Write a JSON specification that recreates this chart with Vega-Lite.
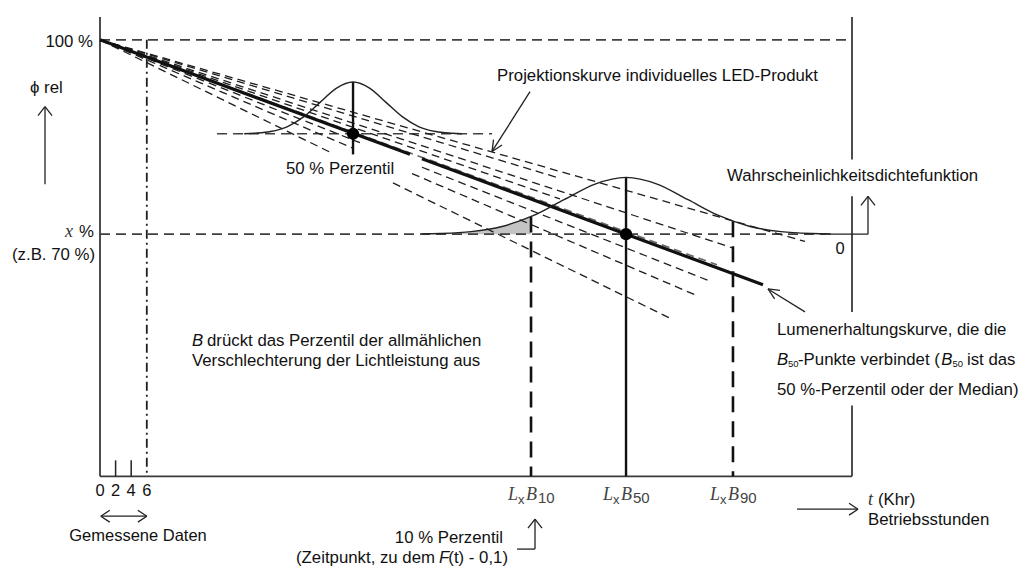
{
"$schema":"https://vega.github.io/schema/vega-lite/v6.json",
"width":1019,"height":567,"padding":0,
"autosize":{"type":"fit","contains":"padding"},
"background":"white",
"config":{"view":{"stroke":null}},
"datasets":{
"segs":[
{"k":"axis","x":0,"y":103.54,"x2":0,"y2":32.62},
{"k":"axis","x":0,"y":32.62,"x2":96.41,"y2":32.62},
{"k":"axis","x":96.41,"y":103.54,"x2":96.41,"y2":81.54},
{"k":"axis","x":96.41,"y":75.85,"x2":96.41,"y2":58.0},
{"k":"axis","x":96.41,"y":43.54,"x2":96.41,"y2":32.62},
{"k":"tick","x":2,"y":32.62,"x2":2,"y2":35.08},
{"k":"tick","x":4,"y":32.62,"x2":4,"y2":35.08},
{"k":"ref","x":0,"y":100,"x2":96.41,"y2":100},
{"k":"ref","x":0,"y":70,"x2":93.21,"y2":70},
{"k":"ref","x":15.0,"y":85.5,"x2":50.26,"y2":85.5},
{"k":"dashdot","x":6,"y":100,"x2":6,"y2":32.62},
{"k":"fan","x":0,"y":100,"x2":90.38,"y2":68.87},
{"k":"fan","x":0,"y":100,"x2":58.97,"y2":78.63},
{"k":"fan","x":0,"y":100,"x2":81.15,"y2":67.86},
{"k":"fan","x":0,"y":100,"x2":58.97,"y2":75.44},
{"k":"fangray","x":0,"y":100,"x2":79.10,"y2":65.26},
{"k":"fan","x":0,"y":100,"x2":33.33,"y2":84.12},
{"k":"fan","x":41.28,"y":80.33,"x2":78.21,"y2":62.74},
{"k":"fan","x":0,"y":100,"x2":32.31,"y2":83.33},
{"k":"fan","x":40.0,"y":79.36,"x2":76.54,"y2":60.51},
{"k":"fan","x":0,"y":100,"x2":29.87,"y2":82.44},
{"k":"fan","x":37.56,"y":77.91,"x2":73.33,"y2":56.88},
{"k":"main","x":0,"y":100,"x2":39.74,"y2":82.32},
{"k":"main","x":41.28,"y":81.64,"x2":85.0,"y2":62.19},
{"k":"pctdash","x":55.26,"y":72.71,"x2":55.26,"y2":32.62},
{"k":"pctdash","x":81.15,"y":71.98,"x2":81.15,"y2":32.62},
{"k":"pctsolid","x":67.44,"y":78.77,"x2":67.44,"y2":32.62},
{"k":"pctsolid","x":32.44,"y":93.5,"x2":32.44,"y2":82.31},
{"k":"thin","x":93.21,"y":70,"x2":98.46,"y2":70},
{"k":"thin","x":98.46,"y":70,"x2":98.46,"y2":75.85},
{"k":"thin","x":97.56,"y":74.46,"x2":98.46,"y2":75.85},
{"k":"thin","x":99.36,"y":74.46,"x2":98.46,"y2":75.85},
{"k":"thin","x":55.13,"y":92.0,"x2":50.26,"y2":82.77},
{"k":"thin","x":51.55,"y":83.77,"x2":50.26,"y2":82.77},
{"k":"thin","x":50.45,"y":84.6,"x2":50.26,"y2":82.77},
{"k":"thin","x":90.38,"y":58.0,"x2":85.64,"y2":61.54},
{"k":"thin","x":86.49,"y":60.0,"x2":85.64,"y2":61.54},
{"k":"thin","x":87.17,"y":61.32,"x2":85.64,"y2":61.54},
{"k":"thin","x":-7.05,"y":77.69,"x2":-7.05,"y2":89.69},
{"k":"thin","x":-7.95,"y":88.31,"x2":-7.05,"y2":89.69},
{"k":"thin","x":-6.15,"y":88.31,"x2":-7.05,"y2":89.69},
{"k":"thin","x":0.1,"y":26.46,"x2":6.0,"y2":26.46},
{"k":"thin","x":1.25,"y":27.38,"x2":0.1,"y2":26.46},
{"k":"thin","x":1.25,"y":25.54,"x2":0.1,"y2":26.46},
{"k":"thin","x":4.85,"y":27.38,"x2":6.0,"y2":26.46},
{"k":"thin","x":4.85,"y":25.54,"x2":6.0,"y2":26.46},
{"k":"thin","x":89.36,"y":27.54,"x2":97.18,"y2":27.54},
{"k":"thin","x":96.03,"y":28.46,"x2":97.18,"y2":27.54},
{"k":"thin","x":96.03,"y":26.62,"x2":97.18,"y2":27.54},
{"k":"thin","x":53.46,"y":21.38,"x2":55.77,"y2":21.38},
{"k":"thin","x":55.77,"y":21.38,"x2":55.77,"y2":26.0},
{"k":"thin","x":54.87,"y":24.62,"x2":55.77,"y2":26.0},
{"k":"thin","x":56.67,"y":24.62,"x2":55.77,"y2":26.0}
],
"curves":[
{"c":"d1","x":18.48,"y":85.5},{"c":"d1","x":19.75,"y":85.59},{"c":"d1","x":21.87,"y":85.85},{"c":"d1","x":23.98,"y":86.58},{"c":"d1","x":26.10,"y":88.10},{"c":"d1","x":28.21,"y":90.35},{"c":"d1","x":30.33,"y":92.56},{"c":"d1","x":32.44,"y":93.5},{"c":"d1","x":34.56,"y":92.56},{"c":"d1","x":36.67,"y":90.35},{"c":"d1","x":38.79,"y":88.10},{"c":"d1","x":40.90,"y":86.58},{"c":"d1","x":43.02,"y":85.85},{"c":"d1","x":45.13,"y":85.59},{"c":"d1","x":46.40,"y":85.5},
{"c":"d2","x":41.21,"y":70.04},{"c":"d2","x":43.59,"y":70.10},{"c":"d2","x":47.57,"y":70.39},{"c":"d2","x":51.54,"y":71.19},{"c":"d2","x":55.52,"y":72.85},{"c":"d2","x":59.49,"y":75.32},{"c":"d2","x":63.47,"y":77.74},{"c":"d2","x":67.44,"y":78.77},{"c":"d2","x":71.42,"y":77.74},{"c":"d2","x":75.39,"y":75.32},{"c":"d2","x":79.37,"y":72.85},{"c":"d2","x":83.34,"y":71.19},{"c":"d2","x":87.32,"y":70.39},{"c":"d2","x":91.29,"y":70.10},{"c":"d2","x":93.68,"y":70.04}
],
"shade":[
{"x":43.21,"y":70.08},{"x":43.59,"y":70.10},{"x":47.57,"y":70.39},{"x":51.54,"y":71.19},{"x":53.53,"y":71.90},{"x":55.26,"y":72.71}
],
"dots":[{"x":32.44,"y":85.5},{"x":67.44,"y":70}],
"labels":[
{"s":"sl","text":"ϕ rel","x":-8.97,"y":92.62},
{"s":"sl","text":"50 % Perzentil","x":23.85,"y":80.0},
{"s":"sl","text":"Projektionskurve individuelles LED-Produkt","x":50.9,"y":94.46},
{"s":"sl","text":"Wahrscheinlichkeitsdichtefunktion","x":80.38,"y":78.92},
{"s":"sl","text":"drückt das Perzentil der allmählichen","x":13.72,"y":53.54},
{"s":"sl","text":"Verschlechterung der Lichtleistung aus","x":11.79,"y":50.46},
{"s":"sl","text":"Lumenerhaltungskurve, die die","x":86.79,"y":55.23},
{"s":"sl","text":"-Punkte verbindet (","x":89.49,"y":50.62},
{"s":"sl","text":"ist das","x":111.15,"y":50.62},
{"s":"sl","text":"50 %-Perzentil oder der Median)","x":86.79,"y":46.0},
{"s":"sl","text":"(Khr)","x":99.74,"y":28.92},
{"s":"sl","text":"Betriebsstunden","x":98.46,"y":25.85},
{"s":"sr","text":"100 %","x":-0.90,"y":99.69},
{"s":"sr","text":"(z.B. 70 %)","x":-0.64,"y":66.77},
{"s":"sr","text":"%","x":-0.77,"y":70.31},
{"s":"sr","text":"10 % Perzentil","x":51.67,"y":23.08},
{"s":"sr","text":"(Zeitpunkt, zu dem","x":42.95,"y":20.0},
{"s":"sr","text":"(t) - 0,1)","x":52.31,"y":20.0},
{"s":"sc","text":"0","x":0,"y":30.31},
{"s":"sc","text":"2","x":2,"y":30.31},
{"s":"sc","text":"4","x":4,"y":30.31},
{"s":"sc","text":"6","x":6,"y":30.31},
{"s":"sc","text":"Gemessene Daten","x":4.87,"y":23.38},
{"s":"sc","text":"0","x":94.87,"y":67.69},
{"s":"si","text":"B","x":11.79,"y":53.54},
{"s":"si","text":"B","x":86.79,"y":50.62},
{"s":"si","text":"B","x":107.85,"y":50.62},
{"s":"si","text":"F","x":43.46,"y":20.0},
{"s":"sub","text":"50","x":88.21,"y":50.62},
{"s":"sub","text":"50","x":109.3,"y":50.62},
{"s":"ser","text":"x","x":-4.49,"y":70.31},
{"s":"ser","text":"t","x":98.46,"y":28.92}
],
"lxb":[{"x":55.26,"y":29.69,"n":"10"},{"x":67.44,"y":29.69,"n":"50"},{"x":81.15,"y":29.69,"n":"90"}]
},
"encoding":{
"x":{"field":"x","type":"quantitative","scale":{"domain":[-12.8205,117.8205],"nice":false,"zero":false},"axis":null},
"y":{"field":"y","type":"quantitative","scale":{"domain":[18.923,106.154],"nice":false,"zero":false},"axis":null}
},
"layer":[
{"data":{"name":"shade"},"mark":{"type":"area","color":"#c4c4c4","interpolate":"monotone"},"encoding":{"y2":{"datum":70}}},
{"data":{"name":"segs"},"transform":[{"filter":"datum.k==='ref'"}],"mark":{"type":"rule","color":"#404040","strokeWidth":1.6,"strokeDash":[10,6]},"encoding":{"x2":{"field":"x2"},"y2":{"field":"y2"}}},
{"data":{"name":"segs"},"transform":[{"filter":"datum.k==='fan'"}],"mark":{"type":"rule","color":"#1e1e1e","strokeWidth":1.3,"strokeDash":[8,5]},"encoding":{"x2":{"field":"x2"},"y2":{"field":"y2"}}},
{"data":{"name":"segs"},"transform":[{"filter":"datum.k==='fangray'"}],"mark":{"type":"rule","color":"#666666","strokeWidth":1.6,"strokeDash":[8,5]},"encoding":{"x2":{"field":"x2"},"y2":{"field":"y2"}}},
{"data":{"name":"segs"},"transform":[{"filter":"datum.k==='axis'"}],"mark":{"type":"rule","color":"#3a3a3a","strokeWidth":1.8},"encoding":{"x2":{"field":"x2"},"y2":{"field":"y2"}}},
{"data":{"name":"segs"},"transform":[{"filter":"datum.k==='tick'"}],"mark":{"type":"rule","color":"#222222","strokeWidth":1.5},"encoding":{"x2":{"field":"x2"},"y2":{"field":"y2"}}},
{"data":{"name":"segs"},"transform":[{"filter":"datum.k==='dashdot'"}],"mark":{"type":"rule","color":"#1e1e1e","strokeWidth":1.8,"strokeDash":[9,4,2,4]},"encoding":{"x2":{"field":"x2"},"y2":{"field":"y2"}}},
{"data":{"name":"segs"},"transform":[{"filter":"datum.k==='main'"}],"mark":{"type":"rule","color":"#111111","strokeWidth":3.2},"encoding":{"x2":{"field":"x2"},"y2":{"field":"y2"}}},
{"data":{"name":"segs"},"transform":[{"filter":"datum.k==='pctdash'"}],"mark":{"type":"rule","color":"#111111","strokeWidth":2.6,"strokeDash":[16,9]},"encoding":{"x2":{"field":"x2"},"y2":{"field":"y2"}}},
{"data":{"name":"segs"},"transform":[{"filter":"datum.k==='pctsolid'"}],"mark":{"type":"rule","color":"#111111","strokeWidth":2.4},"encoding":{"x2":{"field":"x2"},"y2":{"field":"y2"}}},
{"data":{"name":"segs"},"transform":[{"filter":"datum.k==='thin'"}],"mark":{"type":"rule","color":"#222222","strokeWidth":1.3},"encoding":{"x2":{"field":"x2"},"y2":{"field":"y2"}}},
{"data":{"name":"curves"},"mark":{"type":"line","color":"#222222","strokeWidth":1.4,"interpolate":"monotone"},"encoding":{"detail":{"field":"c"}}},
{"data":{"name":"dots"},"mark":{"type":"point","shape":"circle","filled":true,"color":"#000000","size":150,"opacity":1},"encoding":{}},
{"data":{"name":"labels"},"transform":[{"filter":"datum.s==='sl'"}],"mark":{"type":"text","align":"left","baseline":"middle","font":"Liberation Sans","fontSize":16.8,"color":"#111111"},"encoding":{"text":{"field":"text"}}},
{"data":{"name":"labels"},"transform":[{"filter":"datum.s==='sr'"}],"mark":{"type":"text","align":"right","baseline":"middle","font":"Liberation Sans","fontSize":16.8,"color":"#111111"},"encoding":{"text":{"field":"text"}}},
{"data":{"name":"labels"},"transform":[{"filter":"datum.s==='sc'"}],"mark":{"type":"text","align":"center","baseline":"middle","font":"Liberation Sans","fontSize":16.5,"color":"#111111"},"encoding":{"text":{"field":"text"}}},
{"data":{"name":"labels"},"transform":[{"filter":"datum.s==='si'"}],"mark":{"type":"text","align":"left","baseline":"middle","font":"Liberation Sans","fontStyle":"italic","fontSize":16.8,"color":"#111111"},"encoding":{"text":{"field":"text"}}},
{"data":{"name":"labels"},"transform":[{"filter":"datum.s==='sub'"}],"mark":{"type":"text","align":"left","baseline":"middle","font":"Liberation Sans","fontSize":9.5,"dy":4,"color":"#111111"},"encoding":{"text":{"field":"text"}}},
{"data":{"name":"labels"},"transform":[{"filter":"datum.s==='ser'"}],"mark":{"type":"text","align":"left","baseline":"middle","font":"Liberation Serif","fontStyle":"italic","fontSize":18,"color":"#333333"},"encoding":{"text":{"field":"text"}}},
{"data":{"name":"lxb"},"mark":{"type":"text","align":"left","baseline":"middle","font":"Liberation Serif","fontStyle":"italic","fontSize":18,"dx":-23,"color":"#444444"},"encoding":{"text":{"value":"L"}}},
{"data":{"name":"lxb"},"mark":{"type":"text","align":"left","baseline":"middle","font":"Liberation Sans","fontSize":13,"dx":-13,"dy":5,"color":"#444444"},"encoding":{"text":{"value":"x"}}},
{"data":{"name":"lxb"},"mark":{"type":"text","align":"left","baseline":"middle","font":"Liberation Serif","fontStyle":"italic","fontSize":18,"dx":-5,"color":"#444444"},"encoding":{"text":{"value":"B"}}},
{"data":{"name":"lxb"},"mark":{"type":"text","align":"left","baseline":"middle","font":"Liberation Sans","fontSize":15,"dx":7,"dy":3,"color":"#444444"},"encoding":{"text":{"field":"n"}}}
]
}
